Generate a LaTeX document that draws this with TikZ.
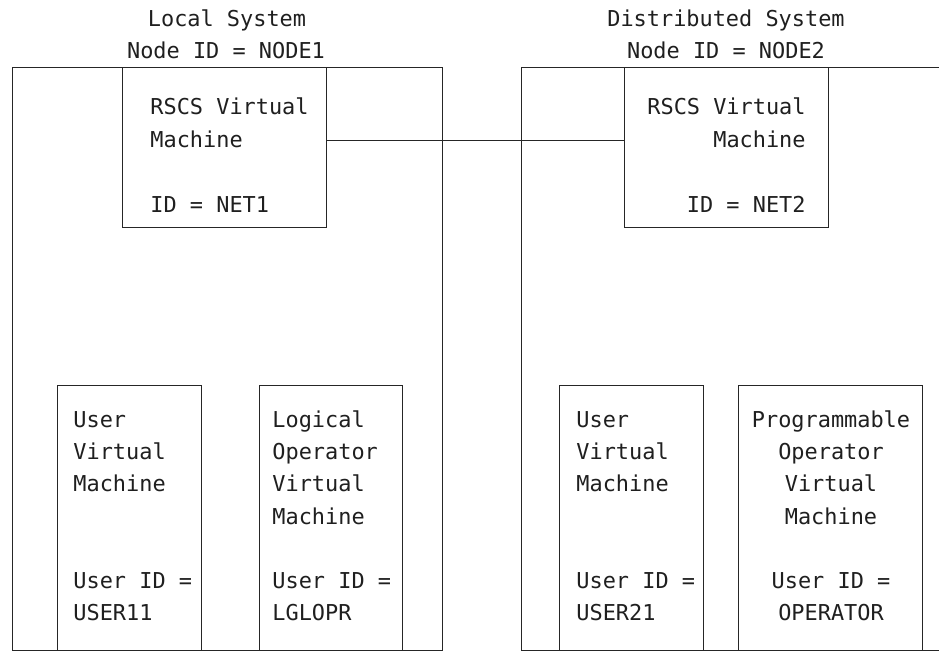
\documentclass[tikz,border=0pt]{standalone}
\usepackage{fontspec}
\setmonofont{DejaVu Sans Mono}
\begin{document}
\begin{tikzpicture}[x=1pt,y=-1pt,line width=0.8pt,
  box/.style={draw=black!85, rectangle, inner sep=0pt, anchor=north west},
  txt/.style={font=\ttfamily\fontsize{21.9}{26}\selectfont, inner sep=0pt, text=black!88}]
\useasboundingbox (0,0) rectangle (939,651);
% system frames
\node[box, minimum width=430pt, minimum height=583pt] (sys1) at (12,67) {};
\draw[black!85] (940,67) -- (521,67) -- (521,650) -- (940,650);
\coordinate (sys2) at (521,67);
% RSCS boxes
\node[box, minimum width=204pt, minimum height=160pt] (r1) at (122,67) {};
\node[box, minimum width=204pt, minimum height=160pt] (r2) at (624,67) {};
\draw[black!85] ([yshift=7pt]r1.east) -- ([yshift=7pt]r2.west);
% bottom boxes
\node[box, minimum width=144pt, minimum height=265pt] (u1) at (57,385) {};
\node[box, minimum width=143pt, minimum height=265pt] (lg) at (259,385) {};
\node[box, minimum width=144pt, minimum height=265pt] (u2) at (559,385) {};
\node[box, minimum width=184pt, minimum height=265pt] (po) at (738,385) {};
% titles
\node[txt, anchor=base] (ta1) at (227,26) {Local System};
\node[txt, anchor=base] (ta2) at (226,58) {Node ID = NODE1};
\node[txt, anchor=base] (tb1) at (726,26) {Distributed System};
\node[txt, anchor=base] (tb2) at (726,58) {Node ID = NODE2};
% RSCS 1
\node[txt, anchor=base west] (ra1) at (150,114) {RSCS Virtual};
\node[txt, anchor=base west] (ra2) at (150,147) {Machine};
\node[txt, anchor=base west] (ra3) at (150,212) {ID = NET1};
% RSCS 2
\node[txt, anchor=base east] (rb1) at (806,114) {RSCS Virtual};
\node[txt, anchor=base east] (rb2) at (806,147) {Machine};
\node[txt, anchor=base east] (rb3) at (806,212) {ID = NET2};
% user 1
\node[txt, anchor=base west] (ua1) at (73,427) {User};
\node[txt, anchor=base west] (ua2) at (73,459) {Virtual};
\node[txt, anchor=base west] (ua3) at (73,491) {Machine};
\node[txt, anchor=base west] (ua4) at (73,588) {User ID =};
\node[txt, anchor=base west] (ua5) at (73,620) {USER11};
% logical operator
\node[txt, anchor=base west] (la1) at (272,427) {Logical};
\node[txt, anchor=base west] (la2) at (272,459) {Operator};
\node[txt, anchor=base west] (la3) at (272,491) {Virtual};
\node[txt, anchor=base west] (la4) at (272,524) {Machine};
\node[txt, anchor=base west] (la5) at (272,588) {User ID =};
\node[txt, anchor=base west] (la6) at (272,620) {LGLOPR};
% user 2
\node[txt, anchor=base west] (ub1) at (576,427) {User};
\node[txt, anchor=base west] (ub2) at (576,459) {Virtual};
\node[txt, anchor=base west] (ub3) at (576,491) {Machine};
\node[txt, anchor=base west] (ub4) at (576,588) {User ID =};
\node[txt, anchor=base west] (ub5) at (576,620) {USER21};
% programmable operator
\node[txt, anchor=base] (pa1) at (831,427) {Programmable};
\node[txt, anchor=base] (pa2) at (831,459) {Operator};
\node[txt, anchor=base] (pa3) at (831,491) {Virtual};
\node[txt, anchor=base] (pa4) at (831,524) {Machine};
\node[txt, anchor=base] (pa5) at (831,588) {User ID =};
\node[txt, anchor=base] (pa6) at (831,620) {OPERATOR};
\end{tikzpicture}
\end{document}
